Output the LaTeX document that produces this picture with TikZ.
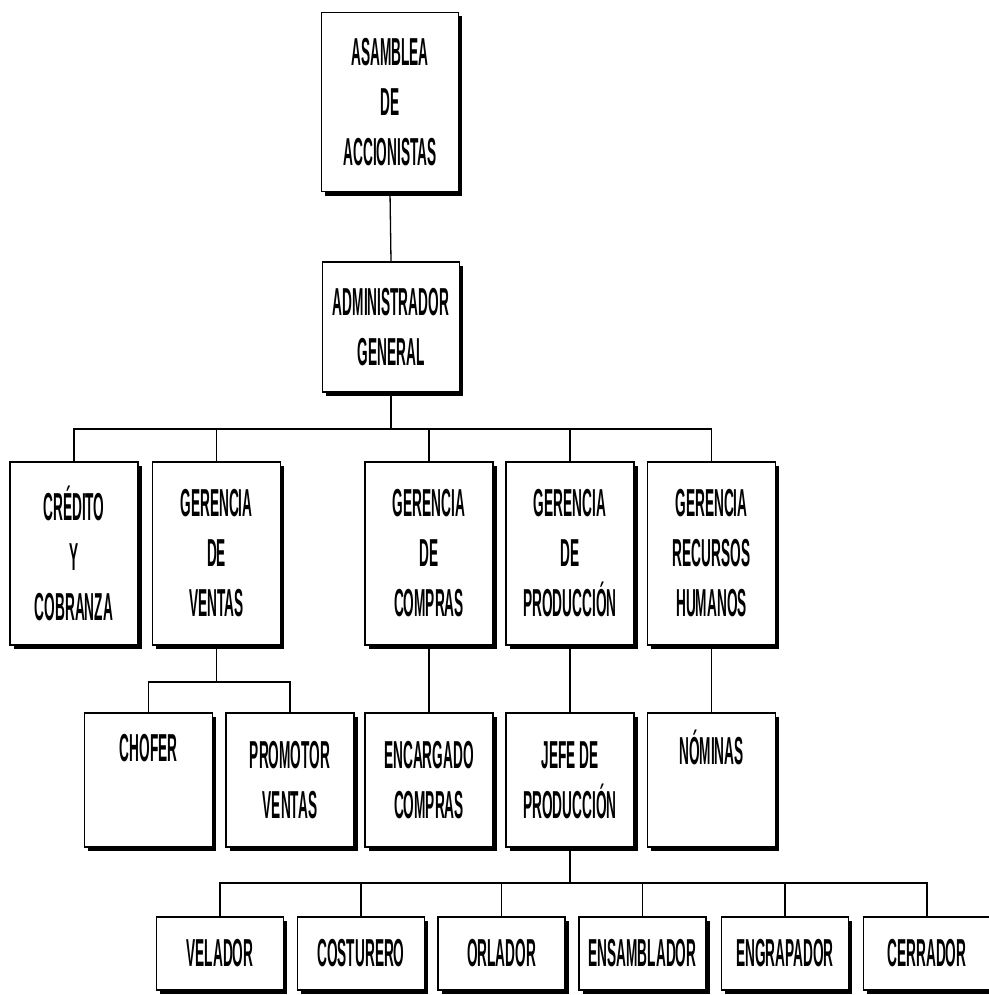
\documentclass[tikz,border=0pt]{standalone}
\usepackage{fontspec}
\setmainfont{Liberation Sans}[FakeStretch=0.35]
\usetikzlibrary{shadows}
\begin{document}
\begin{tikzpicture}[x=1pt,y=-1pt,
  box/.style={draw, line width=1.5pt, fill=white, align=center, inner sep=0pt,
    font=\fontsize{39}{50}\selectfont\bfseries,
    drop shadow={shadow xshift=3.5pt, shadow yshift=-4pt, fill=black, opacity=1}},
  bigbox/.style={box, minimum width=128pt, minimum height=183pt},
  midbox/.style={box, minimum width=128pt, minimum height=134pt},
  lowbox/.style={box, minimum width=127pt, minimum height=73pt},
  conn/.style={line width=1.3pt}]
\useasboundingbox (0,0) rectangle (988,995);
\coordinate (b1) at (0,429);
\coordinate (b2) at (0,682);
\coordinate (b3) at (0,883);

\node[box, minimum width=137pt, minimum height=179pt] (asm) at (390,102) {ASAMBLEA\\DE\\ACCIONISTAS};
\node[box, minimum width=137pt, minimum height=130pt] (adm) at (391,327) {ADMINISTRADOR\\GENERAL};

\node[bigbox] (cre) at (74,553.5) {CRÉDITO\\Y\\COBRANZA};
\node[bigbox] (gv) at (216.5,553.5) {GERENCIA\\DE\\VENTAS};
\node[bigbox] (gc) at (429,553.5) {GERENCIA\\DE\\COMPRAS};
\node[bigbox] (gp) at (570,553.5) {GERENCIA\\DE\\PRODUCCIÓN};
\node[bigbox] (grh) at (711.5,553.5) {GERENCIA\\RECURSOS\\HUMANOS};

\node[midbox] (cho) at (148.5,780) {CHOFER\\\strut};
\node[midbox] (pro) at (290,780) {PROMOTOR\\VENTAS};
\node[midbox] (enc) at (429,780) {ENCARGADO\\COMPRAS};
\node[midbox] (jef) at (570,780) {JEFE DE\\PRODUCCIÓN};
\node[midbox] (nom) at (711.5,780) {NÓMINAS\\\strut};

\node[lowbox] (vel) at (220,953.5) {VELADOR};
\node[lowbox] (cos) at (361,953.5) {COSTURERO};
\node[lowbox] (orl) at (501.5,953.5) {ORLADOR};
\node[lowbox] (ens) at (642.5,953.5) {ENSAMBLADOR};
\node[lowbox] (eng) at (785,953.5) {ENGRAPADOR};
\node[lowbox] (cer) at (927,953.5) {CERRADOR};

\draw[conn] (asm.south) -- (adm.north);
\draw[conn] (adm.south) -- (adm.south |- b1);
\draw[conn] (cre.north) -- (cre.north |- b1) -- (grh.north |- b1) -- (grh.north);
\draw[conn] (gv.north) -- (gv.north |- b1);
\draw[conn] (gc.north) -- (gc.north |- b1);
\draw[conn] (gp.north) -- (gp.north |- b1);

\draw[conn] (gv.south) -- (gv.south |- b2);
\draw[conn] (cho.north) -- (cho.north |- b2) -- (pro.north |- b2) -- (pro.north);
\draw[conn] (gc.south) -- (enc.north);
\draw[conn] (gp.south) -- (jef.north);
\draw[conn] (grh.south) -- (nom.north);

\draw[conn] (jef.south) -- (jef.south |- b3);
\draw[conn] (vel.north) -- (vel.north |- b3) -- (cer.north |- b3) -- (cer.north);
\draw[conn] (cos.north) -- (cos.north |- b3);
\draw[conn] (orl.north) -- (orl.north |- b3);
\draw[conn] (ens.north) -- (ens.north |- b3);
\draw[conn] (eng.north) -- (eng.north |- b3);
\end{tikzpicture}
\end{document}
